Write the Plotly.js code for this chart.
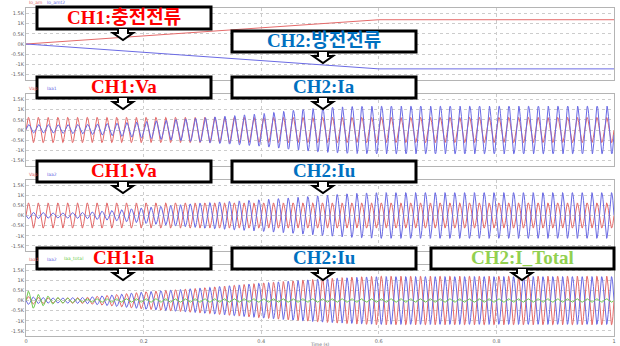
<!DOCTYPE html>
<html><head><meta charset="utf-8">
<script src="https://cdn.plot.ly/plotly-3.0.1.min.js"></script>
<style>html,body{margin:0;padding:0;background:#fff}#chart{width:620px;height:346px}</style>
</head><body><div id="chart"></div>
<script>
// ---------------- data (in A / V) ----------------
const xTickVals = [0, 0.2, 0.4, 0.6, 0.8, 1];
const xTickText = ['0', '0.2', '0.4', '0.6', '0.8', '1'];
const yTickVals = [1500, 1000, 500, 0, -500, -1000, -1500];
const yTickText = ['1.5K', '1K', '0.5K', '0K', '-0.5K', '-1K', '-1.5K'];

// Panel 1: charge / discharge current (ramp, then flat)
const p1Time      = [0, 0.02, 0.6, 1.0];
const p1Charge    = [0, 40, 1190, 1190];
const p1Discharge = [0, -40, -1220, -1220];

// AC waveforms (60 Hz): envelope amplitudes read at these times
const acFreq  = 60;
const envTime = [0, 0.02, 0.05, 0.1, 0.15, 0.2, 0.25, 0.3, 0.35, 0.4, 0.45, 0.5, 0.55, 0.6, 0.8, 1.0];
// Panel 2: CH1 Va, CH2 Ia
const p2VaAmp    = [620, 620, 620, 620, 620, 620, 620, 620, 620, 620, 620, 620, 620, 620, 620, 620];
const p2IaAmp    = [200, 200, 200, 230, 300, 400, 500, 600, 700, 800, 950, 1080, 1150, 1170, 1170, 1170];
const p2IaOffset = [60, 60, 50, 40, 20, 10, 0, 0, 0, 0, 0, 0, 0, 0, 0, 0];
// Panel 3: CH1 Va, CH2 Iu
const p3VaAmp    = [620, 620, 620, 620, 620, 620, 620, 620, 620, 620, 620, 620, 620, 620, 620, 620];
const p3IuAmp    = [150, 150, 120, 150, 250, 380, 500, 620, 700, 780, 870, 980, 1080, 1130, 1130, 1130];
// Panel 4: CH1 Ia, CH2 Iu, CH2 I_Total
const p4IaAmp    = [200, 150, 120, 150, 280, 420, 520, 620, 740, 860, 960, 1060, 1150, 1200, 1200, 1200];
const p4IuAmp    = [200, 150, 120, 150, 280, 420, 520, 620, 740, 860, 960, 1060, 1130, 1180, 1180, 1180];
const p4TotAmp   = [500, 300, 150, 80, 80, 80, 80, 80, 80, 80, 80, 80, 80, 80, 80, 80];

// legend labels
const legendLabels = [['Io_am', 'Io_amt2'], ['Vap', 'Iaa1'], ['Vap', 'Iaa2'], ['Iaa1', 'Iaa2', 'Iaa_total']];
// callout texts
const calloutTexts = ['CH1:충전전류', 'CH2:방전전류', 'CH1:Va', 'CH2:Ia', 'CH1:Va', 'CH2:Iu', 'CH1:Ia', 'CH2:Iu', 'CH2:I_Total'];

// ---------------- build waveforms from envelopes ----------------
function envAt(arr, t) {
  for (let i = 0; i < envTime.length - 1; i++) {
    if (t <= envTime[i + 1]) {
      const f = (t - envTime[i]) / (envTime[i + 1] - envTime[i]);
      return arr[i] + f * (arr[i + 1] - arr[i]);
    }
  }
  return arr[arr.length - 1];
}
const N = 1600;
const tAC = [];
for (let i = 0; i <= N; i++) tAC.push(i / N);
function wave(amp, phase, offset) {
  return tAC.map(t => (offset ? envAt(offset, t) : 0) + envAt(amp, t) * Math.sin(2 * Math.PI * acFreq * t + phase));
}

const RED = '#e46a6a', BLUE = '#6a6ae4', GREEN = '#70cc50';
const lw = 1;
const traces = [
  {x: p1Time, y: p1Charge, xaxis: 'x', yaxis: 'y', line: {color: RED, width: lw}},
  {x: p1Time, y: p1Discharge, xaxis: 'x', yaxis: 'y', line: {color: BLUE, width: lw}},
  {x: tAC, y: wave(p2VaAmp, 0), xaxis: 'x2', yaxis: 'y2', line: {color: RED, width: lw}},
  {x: tAC, y: wave(p2IaAmp, -0.2, p2IaOffset), xaxis: 'x2', yaxis: 'y2', line: {color: BLUE, width: lw}},
  {x: tAC, y: wave(p3VaAmp, 0), xaxis: 'x3', yaxis: 'y3', line: {color: RED, width: lw}},
  {x: tAC, y: wave(p3IuAmp, Math.PI), xaxis: 'x3', yaxis: 'y3', line: {color: BLUE, width: lw}},
  {x: tAC, y: wave(p4IaAmp, 0), xaxis: 'x4', yaxis: 'y4', line: {color: RED, width: lw}},
  {x: tAC, y: wave(p4IuAmp, Math.PI), xaxis: 'x4', yaxis: 'y4', line: {color: BLUE, width: lw}},
  {x: tAC, y: wave(p4TotAmp, 0), xaxis: 'x4', yaxis: 'y4', line: {color: GREEN, width: lw}}
].map(t => Object.assign(t, {type: 'scatter', mode: 'lines', showlegend: false, hoverinfo: 'skip'}));

// ---------------- layout ----------------
const W = 620, H = 346;
const px = x => x / W, py = y => 1 - y / H;
const plotL = 26, plotR = 614;
const panels = [[8.3, 79.7], [94.3, 165.7], [180, 251], [265, 336]]; // top/bottom pixel rows

const layout = {
  width: W, height: H, margin: {l: 0, r: 0, t: 0, b: 0},
  paper_bgcolor: '#fff', plot_bgcolor: '#fff', showlegend: false,
  font: {family: 'DejaVu Sans, Arial', size: 5, color: '#666'},
  shapes: [], annotations: []
};
panels.forEach((p, i) => {
  const k = i === 0 ? '' : String(i + 1);
  layout['xaxis' + k] = {
    domain: [px(plotL), px(plotR)], range: [0, 1], anchor: 'y' + k,
    tickvals: xTickVals, ticktext: xTickText, showticklabels: i === 3,
    ticks: '', tickfont: {size: 5, color: '#666'},
    showgrid: true, gridcolor: '#cccccc', griddash: 'dot', gridwidth: 1,
    showline: true, mirror: true, linecolor: '#b4b4b4', linewidth: 1, zeroline: false, fixedrange: true
  };
  layout['yaxis' + k] = {
    domain: [py(p[1]), py(p[0])], range: [-1750, 1750], anchor: 'x' + k,
    tickvals: yTickVals, ticktext: yTickText, ticks: '', tickfont: {size: 5, color: '#666'},
    showgrid: true, gridcolor: '#cccccc', griddash: 'dot', gridwidth: 1,
    showline: true, mirror: true, linecolor: '#b4b4b4', linewidth: 1, zeroline: false, fixedrange: true
  };
});

// tiny legend labels
const legendRows = [3, 88.5, 174, 259];
const legendCols = [27, 45, 62];
const legendColors = [RED, BLUE, GREEN];
legendLabels.forEach((row, i) => row.forEach((lab, j) => {
  layout.annotations.push({xref: 'paper', yref: 'paper', x: px(legendCols[j]), y: py(legendRows[i]),
    xanchor: 'left', yanchor: 'middle', showarrow: false, text: lab, font: {size: 4.5, color: legendColors[j]}});
}));
// x axis title
layout.annotations.push({xref: 'paper', yref: 'paper', x: px(320), y: py(344.5), xanchor: 'center', yanchor: 'middle',
  showarrow: false, text: 'Time (s)', font: {size: 4.5, color: '#666'}});

// callout boxes + arrows
const boxes = [
  // [x0, x1, y0, y1, color, arrowX]
  [37, 211, 7, 29, '#ff0000', 123],
  [232, 416, 31, 52, '#0070c0', 323],
  [37, 211, 77, 98, '#ff0000', 123],
  [232, 416, 77, 98, '#0070c0', 323],
  [37, 211, 161, 182, '#ff0000', 123],
  [232, 416, 161, 182, '#0070c0', 323],
  [37, 211, 248, 269, '#ff0000', 123],
  [232, 416, 248, 269, '#0070c0', 323],
  [431, 614, 248, 269, '#92d050', 522]
];
boxes.forEach((b, i) => {
  const [x0, x1, y0, y1, col, ax] = b;
  layout.shapes.push({type: 'rect', xref: 'paper', yref: 'paper', layer: 'above',
    x0: px(x0), x1: px(x1), y0: py(y1), y1: py(y0), fillcolor: '#fff', line: {color: '#000', width: 3}});
  const pts = [[ax - 5, y1], [ax - 5, y1 + 4], [ax - 10, y1 + 4], [ax, y1 + 11], [ax + 10, y1 + 4], [ax + 5, y1 + 4], [ax + 5, y1]];
  layout.shapes.push({type: 'path', xref: 'paper', yref: 'paper', layer: 'above',
    path: 'M' + pts.map(p => px(p[0]) + ',' + py(p[1])).join('L'),
    fillcolor: '#fff', line: {color: '#000', width: 2}});
  layout.annotations.push({xref: 'paper', yref: 'paper', x: px((x0 + x1) / 2), y: py((y0 + y1) / 2 - 1),
    xanchor: 'center', yanchor: 'middle', showarrow: false, text: '<b>' + calloutTexts[i] + '</b>',
    font: {family: 'Liberation Serif, Noto Sans CJK KR, serif', size: 19, color: col}});
});

Plotly.newPlot('chart', traces, layout, {staticPlot: true, displayModeBar: false});
</script>
</body></html>
